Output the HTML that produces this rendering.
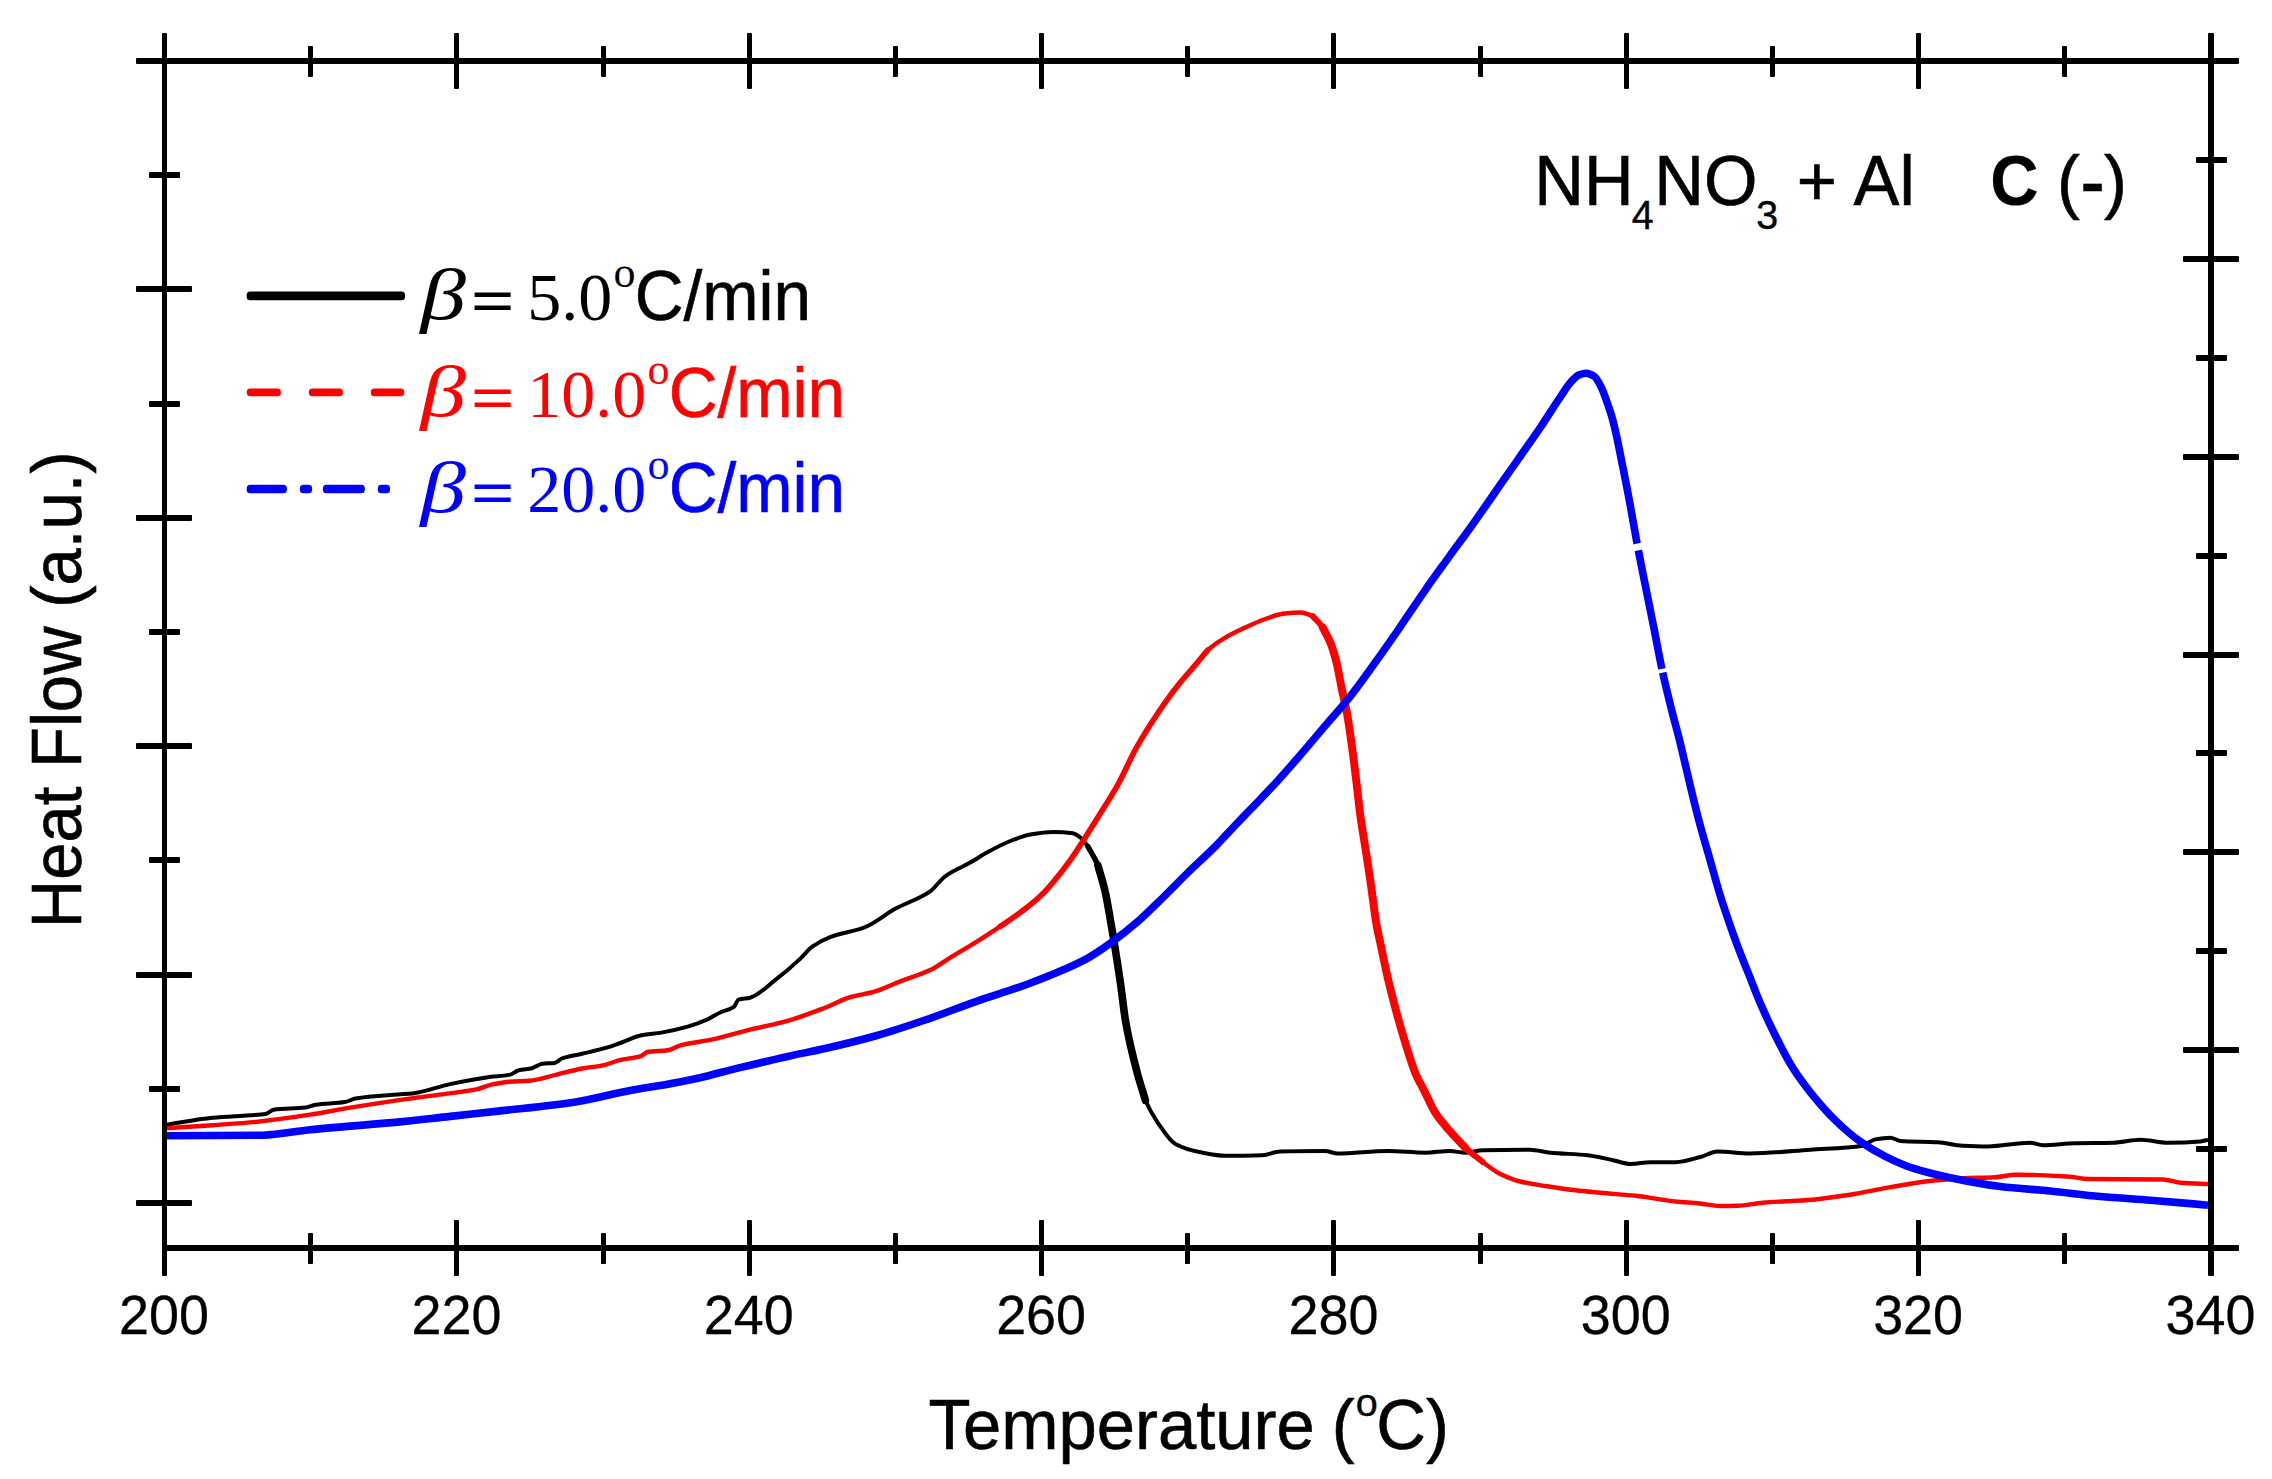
<!DOCTYPE html>
<html><head><meta charset="utf-8"><style>html,body{margin:0;padding:0;background:#fff;overflow:hidden}svg{display:block}</style></head>
<body>
<svg width="2272" height="1479" viewBox="0 0 2272 1479">
<rect width="2272" height="1479" fill="#fff"/>
<g fill="none" stroke-linejoin="round" stroke-linecap="butt">
<path d="M165.5,1124.9C181.2,1122.5 196.9,1119.1 212.6,1117.7C225.1,1116.6 237.5,1116.1 250.0,1115.2C255.2,1114.8 260.4,1114.7 265.6,1113.9C268.3,1113.5 270.9,1110.1 273.6,1109.7C284.2,1108.2 294.7,1108.9 305.3,1107.6C308.8,1107.2 312.3,1105.2 315.8,1104.7C325.5,1103.3 335.2,1103.6 344.9,1102.1C348.4,1101.6 351.9,1099.1 355.4,1098.5C369.5,1096.1 383.6,1095.6 397.7,1094.5C402.7,1094.1 407.7,1093.9 412.7,1093.4C425.1,1092.1 437.6,1086.7 450.0,1084.1C463.2,1081.3 476.4,1078.6 489.6,1076.9C496.2,1076.1 502.8,1076.1 509.4,1074.9C512.5,1074.3 515.6,1071.0 518.7,1070.3C523.1,1069.2 527.5,1069.3 531.9,1068.3C535.4,1067.5 538.9,1064.1 542.4,1063.7C546.4,1063.3 550.3,1063.4 554.3,1063.0C556.9,1062.7 559.6,1059.3 562.2,1058.4C568.8,1056.1 575.4,1055.4 582.0,1053.8C590.8,1051.7 599.7,1049.8 608.5,1047.2C612.9,1045.9 617.3,1044.1 621.7,1042.5C628.3,1040.1 634.9,1036.6 641.5,1035.3C648.1,1034.0 654.7,1033.7 661.3,1032.6C670.1,1031.1 678.9,1029.2 687.7,1026.7C694.3,1024.8 700.9,1022.3 707.5,1019.4C711.9,1017.4 716.3,1014.2 720.7,1012.2C725.1,1010.2 729.5,1010.0 733.9,1006.9C735.4,1005.8 737.0,1000.1 738.5,999.6C742.3,998.3 746.2,998.7 750.0,997.7C758.4,995.6 766.7,986.6 775.1,980.2C783.4,973.8 791.8,966.6 800.1,958.9C804.3,955.0 808.4,949.3 812.6,946.4C818.4,942.3 824.3,939.3 830.1,937.1C841.8,932.6 853.4,931.7 865.1,927.1C875.1,923.2 885.2,914.3 895.2,908.8C906.9,902.4 918.5,899.4 930.2,891.3C935.2,887.8 940.2,879.9 945.2,876.3C953.5,870.3 961.9,867.4 970.2,862.6C976.1,859.2 981.9,855.2 987.8,852.0C996.1,847.5 1004.5,843.1 1012.8,840.0C1018.6,837.8 1024.5,835.5 1030.3,834.5C1037.8,833.2 1045.3,832.0 1052.8,832.0C1059.5,832.0 1066.1,832.4 1072.8,833.3C1075.3,833.6 1077.8,835.6 1080.3,837.5C1082.8,839.4 1085.3,842.7 1087.8,846.3C1091.1,851.1 1094.5,856.7 1097.8,865.1C1100.3,871.5 1102.9,881.4 1105.4,892.6C1107.1,900.0 1108.7,910.5 1110.4,920.1C1112.1,929.7 1113.7,939.7 1115.4,950.1C1117.1,960.5 1118.7,971.1 1120.4,982.7C1122.1,994.3 1123.7,1010.2 1125.4,1020.2C1127.1,1030.2 1128.7,1037.7 1130.4,1045.2C1132.9,1056.4 1135.4,1066.1 1137.9,1075.2C1140.4,1084.3 1142.9,1094.3 1145.4,1100.3C1149.6,1110.3 1153.7,1116.7 1157.9,1122.8C1163.7,1131.3 1169.6,1140.9 1175.4,1144.0C1183.7,1148.5 1192.1,1150.7 1200.4,1152.3C1208.8,1153.9 1217.1,1155.8 1225.5,1155.8C1237.9,1155.8 1250.2,1155.6 1262.6,1155.2C1268.4,1155.0 1274.3,1151.6 1280.1,1151.5C1295.1,1151.1 1310.1,1151.0 1325.1,1151.0C1329.3,1151.0 1333.4,1153.5 1337.6,1153.5C1354.3,1153.5 1371.0,1151.0 1387.7,1151.0C1400.2,1151.0 1412.7,1152.7 1425.2,1152.7C1433.5,1152.7 1441.9,1151.0 1450.2,1151.0C1455.2,1151.0 1460.2,1152.7 1465.2,1152.7C1471.0,1152.7 1476.9,1150.3 1482.7,1150.2C1498.6,1149.8 1514.4,1149.7 1530.3,1149.7C1537.0,1149.7 1543.6,1152.1 1550.3,1152.7C1562.8,1153.9 1575.3,1153.9 1587.8,1155.2C1596.2,1156.1 1604.5,1158.5 1612.9,1160.2C1618.7,1161.4 1624.6,1164.0 1630.4,1164.0C1637.1,1164.0 1643.7,1162.2 1650.4,1162.2C1658.7,1162.2 1667.1,1162.2 1675.4,1162.2C1683.7,1162.2 1692.1,1159.2 1700.4,1157.0C1706.1,1155.5 1711.8,1151.4 1717.5,1151.4C1728.3,1151.4 1739.2,1153.4 1750.0,1153.4C1770.0,1153.4 1790.1,1151.1 1810.1,1149.7C1827.6,1148.5 1845.1,1148.4 1862.6,1145.7C1866.8,1145.0 1871.0,1140.2 1875.2,1139.4C1880.2,1138.5 1885.2,1137.7 1890.2,1137.7C1893.5,1137.7 1896.9,1140.7 1900.2,1140.9C1912.7,1141.8 1925.2,1141.5 1937.7,1142.2C1946.0,1142.7 1954.4,1145.3 1962.7,1145.7C1971.1,1146.1 1979.4,1146.4 1987.8,1146.4C2002.0,1146.4 2016.1,1142.7 2030.3,1142.7C2034.5,1142.7 2038.6,1145.2 2042.8,1145.2C2053.6,1145.2 2064.5,1143.4 2075.3,1143.2C2087.8,1142.9 2100.4,1143.0 2112.9,1142.7C2122.1,1142.5 2131.2,1139.7 2140.4,1139.7C2149.6,1139.7 2158.7,1142.7 2167.9,1142.7C2178.7,1142.7 2189.6,1142.3 2200.4,1141.4C2202.9,1141.2 2205.5,1140.3 2208.0,1139.7" stroke="#000" stroke-width="4"/>
<path d="M1087.8,846.3C1091.1,852.6 1094.5,856.7 1097.8,865.1C1100.3,871.5 1102.9,881.4 1105.4,892.6C1107.1,900.0 1108.7,910.5 1110.4,920.1C1112.1,929.7 1113.7,939.7 1115.4,950.1C1117.1,960.5 1118.7,971.1 1120.4,982.7C1122.1,994.3 1123.7,1010.2 1125.4,1020.2C1127.1,1030.2 1128.7,1037.7 1130.4,1045.2C1132.9,1056.4 1135.4,1066.1 1137.9,1075.2C1140.4,1084.3 1142.9,1091.9 1145.4,1100.3" stroke="#000" stroke-width="5.4" stroke-linecap="round"/>
<path d="M1097.8,865.1C1100.3,874.3 1102.9,881.4 1105.4,892.6C1107.1,900.0 1108.7,910.5 1110.4,920.1C1112.1,929.7 1113.7,939.7 1115.4,950.1C1117.1,960.5 1118.7,971.1 1120.4,982.7C1122.1,994.3 1123.7,1010.2 1125.4,1020.2C1127.1,1030.2 1128.7,1037.7 1130.4,1045.2C1132.9,1056.4 1135.4,1066.1 1137.9,1075.2C1140.4,1084.3 1142.9,1091.9 1145.4,1100.3" stroke="#000" stroke-width="7.6" stroke-linecap="round"/>
<path d="M165.5,1128.3C181.2,1127.3 196.9,1126.3 212.6,1125.2C227.6,1124.1 242.6,1123.2 257.6,1121.7C275.1,1120.0 292.6,1117.4 310.1,1114.7C323.5,1112.7 336.8,1109.9 350.2,1107.7C369.4,1104.6 388.5,1101.6 407.7,1098.9C420.2,1097.1 432.8,1095.6 445.3,1093.9C455.7,1092.5 466.0,1091.5 476.4,1089.4C481.7,1088.3 487.0,1085.5 492.3,1084.4C498.0,1083.2 503.7,1082.1 509.4,1081.7C516.0,1081.2 522.6,1081.3 529.2,1080.8C538.0,1080.2 546.8,1076.9 555.6,1074.9C564.4,1072.9 573.2,1070.1 582.0,1068.5C588.6,1067.3 595.3,1066.9 601.9,1065.6C608.5,1064.3 615.1,1061.2 621.7,1059.7C627.8,1058.3 634.0,1058.2 640.1,1056.4C642.8,1055.6 645.4,1052.2 648.1,1051.8C654.7,1050.8 661.3,1051.1 667.9,1050.2C672.3,1049.6 676.7,1046.3 681.1,1045.2C692.1,1042.4 703.1,1041.6 714.1,1039.2C726.1,1036.6 738.0,1032.6 750.0,1029.6C762.5,1026.5 775.1,1024.4 787.6,1020.9C800.1,1017.4 812.6,1012.5 825.1,1007.7C833.4,1004.5 841.8,999.7 850.1,997.2C858.5,994.7 866.8,993.9 875.2,991.4C883.5,989.0 891.9,984.6 900.2,981.4C910.2,977.5 920.2,974.9 930.2,970.1C936.9,966.9 943.5,961.7 950.2,957.6C958.5,952.5 966.9,947.8 975.2,942.6C983.6,937.4 991.9,932.0 1000.3,926.4C1008.6,920.8 1017.0,915.3 1025.3,908.8C1031.1,904.3 1037.0,899.5 1042.8,893.8C1047.0,889.7 1051.1,884.6 1055.3,879.6C1060.3,873.5 1065.3,867.1 1070.3,860.1C1074.5,854.3 1078.6,847.7 1082.8,841.3C1087.8,833.6 1092.8,825.5 1097.8,817.5C1104.4,806.9 1111.0,797.1 1117.6,785.2C1123.4,774.7 1129.3,760.8 1135.1,750.2C1140.1,741.1 1145.1,733.0 1150.1,725.1C1155.1,717.2 1160.1,709.6 1165.1,702.6C1170.1,695.5 1175.2,688.8 1180.2,682.6C1185.2,676.4 1190.2,671.0 1195.2,665.1C1199.4,660.2 1203.5,653.9 1207.7,650.1C1213.5,644.8 1219.4,641.1 1225.2,637.6C1231.9,633.6 1238.5,630.6 1245.2,627.5C1251.9,624.4 1258.5,621.3 1265.2,619.0C1271.0,617.0 1276.9,614.5 1282.7,613.8C1288.6,613.1 1294.4,612.5 1300.3,612.5C1304.5,612.5 1308.6,614.3 1312.8,616.3C1316.1,617.9 1319.5,622.7 1322.8,627.6C1325.3,631.3 1327.8,636.4 1330.3,642.6C1332.4,647.7 1334.4,654.4 1336.5,662.6C1338.2,669.2 1339.8,679.5 1341.5,687.6C1343.4,697.0 1345.4,704.2 1347.3,715.1C1348.9,724.1 1350.5,736.0 1352.1,747.7C1353.5,757.7 1354.8,769.0 1356.2,780.2C1357.6,791.4 1358.9,805.1 1360.3,815.2C1362.0,827.6 1363.6,836.9 1365.3,847.7C1367.0,858.5 1368.6,869.0 1370.3,880.3C1372.4,894.6 1374.5,913.5 1376.6,925.3C1377.8,932.0 1379.0,936.8 1380.2,942.5C1382.7,954.3 1385.2,966.8 1387.7,977.6C1390.2,988.4 1392.7,998.2 1395.2,1007.6C1398.5,1020.1 1401.9,1031.8 1405.2,1042.6C1408.5,1053.4 1411.9,1064.7 1415.2,1072.7C1418.5,1080.7 1421.9,1086.0 1425.2,1092.7C1428.5,1099.4 1431.9,1107.5 1435.2,1112.7C1440.2,1120.5 1445.2,1125.7 1450.2,1131.5C1455.2,1137.3 1460.2,1143.0 1465.2,1147.7C1471.0,1153.1 1476.9,1157.7 1482.7,1162.0C1488.6,1166.4 1494.4,1171.1 1500.3,1174.0C1507.0,1177.2 1513.6,1179.9 1520.3,1181.5C1528.6,1183.6 1537.0,1184.7 1545.3,1186.0C1555.3,1187.6 1565.3,1189.1 1575.3,1190.3C1583.7,1191.3 1592.0,1192.0 1600.4,1192.8C1612.1,1193.9 1623.7,1194.6 1635.4,1195.8C1648.7,1197.2 1662.1,1200.1 1675.4,1201.5C1683.6,1202.3 1691.8,1202.7 1700.0,1203.5C1706.7,1204.2 1713.3,1206.0 1720.0,1206.0C1725.8,1206.0 1731.7,1205.9 1737.5,1205.7C1745.9,1205.5 1754.2,1203.4 1762.6,1202.7C1779.3,1201.3 1795.9,1201.1 1812.6,1199.7C1825.1,1198.6 1837.6,1196.6 1850.1,1194.7C1862.6,1192.8 1875.2,1189.9 1887.7,1187.7C1900.2,1185.5 1912.7,1182.9 1925.2,1181.5C1937.7,1180.1 1950.2,1178.8 1962.7,1178.2C1973.6,1177.7 1984.4,1177.8 1995.3,1177.2C2002.0,1176.9 2008.6,1174.7 2015.3,1174.7C2033.6,1174.7 2052.0,1175.5 2070.3,1176.7C2076.1,1177.1 2082.0,1178.9 2087.8,1179.0C2112.8,1179.4 2137.9,1179.1 2162.9,1179.5C2168.7,1179.6 2174.6,1182.2 2180.4,1182.7C2189.6,1183.4 2198.8,1183.6 2208.0,1184.0" stroke="#f00" stroke-width="4.4"/>
<path d="M1000.3,926.4C1008.6,920.5 1017.0,915.3 1025.3,908.8C1031.1,904.3 1037.0,899.5 1042.8,893.8C1047.0,889.7 1051.1,884.6 1055.3,879.6C1060.3,873.5 1065.3,867.1 1070.3,860.1C1074.5,854.3 1078.6,847.7 1082.8,841.3C1087.8,833.6 1092.8,825.5 1097.8,817.5C1104.4,806.9 1111.0,797.1 1117.6,785.2C1123.4,774.7 1129.3,760.8 1135.1,750.2C1140.1,741.1 1145.1,733.0 1150.1,725.1C1155.1,717.2 1160.1,709.6 1165.1,702.6C1170.1,695.5 1175.2,688.8 1180.2,682.6C1185.2,676.4 1190.2,671.0 1195.2,665.1C1199.4,660.2 1203.5,655.1 1207.7,650.1" stroke="#f00" stroke-width="5.6" stroke-linecap="round"/>
<path d="M1312.8,616.3C1316.1,620.1 1319.5,622.7 1322.8,627.6C1325.3,631.3 1327.8,636.4 1330.3,642.6C1332.4,647.7 1334.4,654.4 1336.5,662.6C1338.2,669.2 1339.8,679.5 1341.5,687.6C1343.4,697.0 1345.4,704.2 1347.3,715.1C1348.9,724.1 1350.5,736.0 1352.1,747.7C1353.5,757.7 1354.8,769.0 1356.2,780.2C1357.6,791.4 1358.9,805.1 1360.3,815.2C1362.0,827.6 1363.6,836.9 1365.3,847.7C1367.0,858.5 1368.6,869.0 1370.3,880.3C1372.4,894.6 1374.5,913.5 1376.6,925.3C1377.8,932.0 1379.0,936.8 1380.2,942.5C1382.7,954.3 1385.2,966.8 1387.7,977.6C1390.2,988.4 1392.7,998.2 1395.2,1007.6C1398.5,1020.1 1401.9,1031.8 1405.2,1042.6C1408.5,1053.4 1411.9,1064.7 1415.2,1072.7C1418.5,1080.7 1421.9,1086.0 1425.2,1092.7C1428.5,1099.4 1431.9,1107.5 1435.2,1112.7C1440.2,1120.5 1445.2,1125.7 1450.2,1131.5C1455.2,1137.3 1460.2,1143.0 1465.2,1147.7C1471.0,1153.1 1476.9,1157.2 1482.7,1162.0" stroke="#f00" stroke-width="6" stroke-linecap="round"/>
<path d="M1322.8,627.6C1325.3,632.6 1327.8,636.4 1330.3,642.6C1332.4,647.7 1334.4,654.4 1336.5,662.6C1338.2,669.2 1339.8,679.5 1341.5,687.6C1343.4,697.0 1345.4,704.2 1347.3,715.1C1348.9,724.1 1350.5,736.0 1352.1,747.7C1353.5,757.7 1354.8,769.0 1356.2,780.2C1357.6,791.4 1358.9,805.1 1360.3,815.2C1362.0,827.6 1363.6,836.9 1365.3,847.7C1367.0,858.5 1368.6,869.0 1370.3,880.3C1372.4,894.6 1374.5,913.5 1376.6,925.3C1377.8,932.0 1379.0,936.8 1380.2,942.5C1382.7,954.3 1385.2,966.8 1387.7,977.6C1390.2,988.4 1392.7,998.2 1395.2,1007.6C1398.5,1020.1 1401.9,1031.8 1405.2,1042.6C1408.5,1053.4 1411.9,1064.7 1415.2,1072.7C1418.5,1080.7 1421.9,1086.0 1425.2,1092.7C1428.5,1099.4 1431.9,1107.5 1435.2,1112.7C1440.2,1120.5 1445.2,1125.7 1450.2,1131.5C1455.2,1137.3 1460.2,1142.3 1465.2,1147.7" stroke="#f00" stroke-width="7.9" stroke-linecap="round"/>
<path d="M165.5,1135.7C197.9,1135.5 230.2,1135.6 262.6,1135.2C278.4,1135.0 294.3,1131.3 310.1,1129.7C340.1,1126.7 370.2,1124.8 400.2,1121.9C416.9,1120.3 433.6,1118.2 450.3,1116.4C467.0,1114.6 483.6,1112.8 500.3,1110.9C525.3,1108.0 550.4,1105.8 575.4,1101.9C592.1,1099.3 608.7,1094.6 625.4,1091.4C642.1,1088.2 658.8,1085.9 675.5,1082.7C683.7,1081.2 691.8,1079.5 700.0,1077.7C713.3,1074.7 726.7,1070.8 740.0,1067.6C747.5,1065.8 755.1,1064.1 762.6,1062.3C770.9,1060.4 779.2,1058.4 787.5,1056.5C800.0,1053.7 812.6,1051.4 825.1,1048.5C841.8,1044.7 858.5,1040.7 875.2,1036.0C891.9,1031.3 908.5,1025.7 925.2,1020.0C941.9,1014.3 958.5,1007.6 975.2,1001.8C991.9,996.0 1008.6,991.1 1025.3,985.0C1037.8,980.4 1050.3,975.6 1062.8,970.1C1071.1,966.5 1079.5,962.7 1087.8,958.1C1096.2,953.4 1104.5,947.5 1112.9,941.4C1121.2,935.3 1129.6,928.6 1137.9,921.4C1146.2,914.2 1154.6,905.7 1162.9,897.6C1171.2,889.5 1179.6,880.7 1187.9,872.6C1196.2,864.5 1204.6,857.1 1212.9,848.8C1221.3,840.4 1229.6,831.0 1238.0,822.3C1242.1,818.1 1246.1,813.9 1250.2,809.7C1258.5,801.0 1266.9,792.6 1275.2,783.5C1283.6,774.4 1291.9,764.8 1300.3,755.1C1308.6,745.5 1317.0,735.4 1325.3,725.6C1333.6,715.8 1342.0,706.8 1350.3,696.3C1358.6,685.8 1367.0,673.9 1375.3,662.3C1383.7,650.7 1392.0,638.7 1400.4,626.6C1408.7,614.5 1417.1,601.7 1425.4,589.8C1433.6,578.0 1441.9,566.8 1450.1,555.4C1456.5,546.5 1463.0,538.0 1469.4,529.0C1476.3,519.4 1483.2,509.4 1490.1,499.5C1493.4,494.7 1496.8,489.8 1500.1,485.0C1506.8,475.3 1513.6,465.8 1520.3,456.2C1527.1,446.5 1533.8,437.1 1540.6,427.1C1547.4,417.1 1554.1,406.0 1560.9,396.1C1564.3,391.2 1567.6,385.5 1571.0,381.9C1573.7,379.0 1576.4,375.7 1579.1,374.8C1581.5,374.0 1583.8,373.3 1586.2,373.3C1588.9,373.3 1591.6,374.7 1594.3,376.4C1596.7,377.9 1599.0,382.8 1601.4,387.5C1603.1,390.9 1604.8,396.0 1606.5,400.7C1608.2,405.4 1609.9,410.1 1611.6,415.9C1613.3,421.6 1614.9,428.7 1616.6,436.2C1618.3,443.8 1620.0,453.2 1621.7,461.6C1623.4,470.0 1625.1,478.1 1626.8,486.9C1627.9,492.8 1629.1,498.9 1630.2,505.1C1632.7,518.7 1635.2,533.7 1637.7,547.0C1640.5,561.7 1643.2,575.0 1646.0,588.8C1648.7,602.1 1651.3,615.2 1654.0,628.6C1656.8,642.5 1659.5,658.0 1662.3,670.8C1665.2,684.2 1668.1,695.8 1671.0,707.5C1674.0,719.7 1677.1,730.2 1680.1,742.5C1683.4,756.0 1686.8,771.3 1690.1,785.1C1693.4,798.9 1696.8,812.7 1700.1,825.1C1703.4,837.5 1706.8,848.4 1710.1,860.1C1713.4,871.8 1716.8,884.4 1720.1,895.2C1723.4,906.0 1726.8,915.6 1730.1,925.2C1733.4,934.8 1736.8,944.0 1740.1,952.7C1743.4,961.4 1746.8,969.4 1750.1,977.7C1753.4,986.0 1756.8,995.0 1760.1,1002.8C1765.1,1014.5 1770.2,1025.2 1775.2,1035.3C1781.0,1047.0 1786.9,1058.6 1792.7,1067.8C1799.3,1078.3 1806.0,1086.9 1812.6,1095.1C1820.1,1104.3 1827.6,1112.8 1835.1,1120.1C1843.4,1128.2 1851.8,1135.5 1860.1,1141.4C1868.5,1147.3 1876.8,1152.2 1885.2,1156.4C1894.4,1161.0 1903.5,1165.2 1912.7,1168.2C1925.2,1172.2 1937.7,1175.1 1950.2,1177.7C1966.9,1181.2 1983.6,1184.5 2000.3,1186.5C2017.0,1188.5 2033.6,1189.4 2050.3,1191.0C2067.0,1192.7 2083.7,1195.0 2100.4,1196.5C2117.1,1198.0 2133.7,1198.9 2150.4,1200.2C2169.6,1201.7 2188.8,1203.5 2208.0,1205.2" stroke="#00f" stroke-width="7.6"/>
<path d="M1636.9,543.6L1638.3,550.4" stroke="#fff" stroke-width="11"/>
<path d="M1661.9,668.8L1662.7,672.6" stroke="#fff" stroke-width="11"/>
</g>
<g fill="#000">
<rect x="136" y="58" width="2103" height="6" rx="1"/>
<rect x="162" y="1245" width="2077" height="6" rx="1"/>
<rect x="162" y="33" width="5" height="1243" rx="1"/>
<rect x="2208" y="33" width="6" height="1243" rx="1"/>
<rect x="308" y="46" width="5" height="31" rx="1"/>
<rect x="308" y="1233" width="5" height="31" rx="1"/>
<rect x="454" y="33" width="5" height="56" rx="1"/>
<rect x="454" y="1220" width="5" height="56" rx="1"/>
<rect x="601" y="46" width="5" height="31" rx="1"/>
<rect x="601" y="1233" width="5" height="31" rx="1"/>
<rect x="747" y="33" width="5" height="56" rx="1"/>
<rect x="747" y="1220" width="5" height="56" rx="1"/>
<rect x="893" y="46" width="5" height="31" rx="1"/>
<rect x="893" y="1233" width="5" height="31" rx="1"/>
<rect x="1039" y="33" width="5" height="56" rx="1"/>
<rect x="1039" y="1220" width="5" height="56" rx="1"/>
<rect x="1185" y="46" width="5" height="31" rx="1"/>
<rect x="1185" y="1233" width="5" height="31" rx="1"/>
<rect x="1331" y="33" width="5" height="56" rx="1"/>
<rect x="1331" y="1220" width="5" height="56" rx="1"/>
<rect x="1478" y="46" width="5" height="31" rx="1"/>
<rect x="1478" y="1233" width="5" height="31" rx="1"/>
<rect x="1624" y="33" width="5" height="56" rx="1"/>
<rect x="1624" y="1220" width="5" height="56" rx="1"/>
<rect x="1770" y="46" width="5" height="31" rx="1"/>
<rect x="1770" y="1233" width="5" height="31" rx="1"/>
<rect x="1916" y="33" width="5" height="56" rx="1"/>
<rect x="1916" y="1220" width="5" height="56" rx="1"/>
<rect x="2062" y="46" width="5" height="31" rx="1"/>
<rect x="2062" y="1233" width="5" height="31" rx="1"/>
<rect x="149" y="172" width="31" height="6" rx="1"/>
<rect x="136" y="286" width="56" height="6" rx="1"/>
<rect x="149" y="401" width="31" height="6" rx="1"/>
<rect x="136" y="515" width="56" height="6" rx="1"/>
<rect x="149" y="629" width="31" height="6" rx="1"/>
<rect x="136" y="743" width="56" height="6" rx="1"/>
<rect x="149" y="857" width="31" height="6" rx="1"/>
<rect x="136" y="972" width="56" height="6" rx="1"/>
<rect x="149" y="1086" width="31" height="6" rx="1"/>
<rect x="136" y="1200" width="56" height="6" rx="1"/>
<rect x="2196" y="157" width="31" height="6" rx="1"/>
<rect x="2183" y="256" width="56" height="6" rx="1"/>
<rect x="2196" y="355" width="31" height="6" rx="1"/>
<rect x="2183" y="454" width="56" height="6" rx="1"/>
<rect x="2196" y="553" width="31" height="6" rx="1"/>
<rect x="2183" y="652" width="56" height="6" rx="1"/>
<rect x="2196" y="750" width="31" height="6" rx="1"/>
<rect x="2183" y="849" width="56" height="6" rx="1"/>
<rect x="2196" y="948" width="31" height="6" rx="1"/>
<rect x="2183" y="1047" width="56" height="6" rx="1"/>
<rect x="2196" y="1146" width="31" height="6" rx="1"/>
</g>
<g font-family="Liberation Sans, Arial, sans-serif" font-size="55" text-anchor="middle" fill="#000" stroke="#000" stroke-width="0.3">
<text transform="translate(164.0,1333.9) scale(0.98,1)">200</text>
<text transform="translate(456.4,1333.9) scale(0.98,1)">220</text>
<text transform="translate(748.7,1333.9) scale(0.98,1)">240</text>
<text transform="translate(1041.1,1333.9) scale(0.98,1)">260</text>
<text transform="translate(1333.4,1333.9) scale(0.98,1)">280</text>
<text transform="translate(1625.8,1333.9) scale(0.98,1)">300</text>
<text transform="translate(1918.1,1333.9) scale(0.98,1)">320</text>
<text transform="translate(2210.5,1333.9) scale(0.98,1)">340</text>
</g>
<text font-family="Liberation Sans, Arial, sans-serif" font-size="70"  stroke="#000" stroke-width="0.6" transform="translate(928.6,1448.9) scale(0.983,1)">Temperature</text>
<text font-family="Liberation Sans, Arial, sans-serif" font-size="70"  stroke="#000" stroke-width="0.6" transform="translate(1331.8,1448.9) scale(0.983,1)">(</text>
<text font-family="Liberation Sans, Arial, sans-serif" font-size="39.6"  stroke="#000" stroke-width="0.4" transform="translate(1355.8,1416.1) scale(1.0,1)">o</text>
<text font-family="Liberation Sans, Arial, sans-serif" font-size="70"  stroke="#000" stroke-width="0.6" transform="translate(1376.2,1448.9) scale(0.983,1)">C)</text>
<text font-family="Liberation Sans, Arial, sans-serif" font-size="70" text-anchor="middle" stroke="#000" stroke-width="0.6" transform="translate(81.2,689.8) rotate(-90) scale(0.958,1.005)">Heat Flow (a.u.)</text>
<text font-family="Liberation Sans, Arial, sans-serif" font-size="70"  stroke="#000" stroke-width="0.6" transform="translate(1534.2,204.9) scale(0.983,1)">NH</text>
<text font-family="Liberation Sans, Arial, sans-serif" font-size="41.5"  stroke="#000" stroke-width="0.4" transform="translate(1631.8,228.8) scale(0.95,1)">4</text>
<text font-family="Liberation Sans, Arial, sans-serif" font-size="70"  stroke="#000" stroke-width="0.6" transform="translate(1654.2,204.9) scale(0.983,1)">NO</text>
<text font-family="Liberation Sans, Arial, sans-serif" font-size="41.5"  stroke="#000" stroke-width="0.4" transform="translate(1756.2,228.8) scale(0.95,1)">3</text>
<text font-family="Liberation Sans, Arial, sans-serif" font-size="70"  stroke="#000" stroke-width="0.6" transform="translate(1796.7,204.9) scale(0.983,1)">+</text>
<text font-family="Liberation Sans, Arial, sans-serif" font-size="70"  stroke="#000" stroke-width="0.6" transform="translate(1853.5,204.9) scale(0.983,1)">Al</text>
<text font-family="Liberation Sans, Arial, sans-serif" font-size="70" font-weight="bold" stroke="#000" stroke-width="0.2" transform="translate(1990.2,204.9) scale(0.955,1)">C</text>
<text font-family="Liberation Sans, Arial, sans-serif" font-size="70"  stroke="#000" stroke-width="0.6" transform="translate(2057,204.9) scale(0.983,1)">(</text>
<text font-family="Liberation Sans, Arial, sans-serif" font-size="70" stroke="#000" stroke-width="0.4" transform="translate(2080.3,211.9) scale(1.06,1.3)">-</text>
<text font-family="Liberation Sans, Arial, sans-serif" font-size="70"  stroke="#000" stroke-width="0.6" transform="translate(2104,204.9) scale(0.983,1)">)</text>
<rect x="246.7" y="291.6" width="158.3" height="8.6" rx="3.5" fill="#000"/>
<text fill="#000" font-family="Liberation Serif, Times New Roman, serif" font-size="71.7" font-style="italic" transform="translate(420.5,319.2) scale(1.27,1)">β</text>
<text fill="#000" font-family="Liberation Serif, Times New Roman, serif" font-size="72" font-weight="bold" transform="translate(470.8,322.85) scale(1.076,0.92)">=</text>
<text fill="#000" font-family="Liberation Serif, Times New Roman, serif" font-size="68" x="527.2" y="319.8">5.0</text>
<text fill="#000" font-family="Liberation Serif, Times New Roman, serif" font-size="44" x="613.4" y="286.8">o</text>
<text fill="#000" stroke="#000" stroke-width="0.6" font-family="Liberation Sans, Arial, sans-serif" font-size="70" transform="translate(634.7,319.8) scale(0.965,1)">C/min</text>
<rect x="246.7" y="388.6" width="34.2" height="7.6" rx="3.5" fill="#f00"/>
<rect x="308.8" y="388.6" width="34.1" height="7.6" rx="3.5" fill="#f00"/>
<rect x="370.8" y="388.6" width="33.4" height="7.6" rx="3.5" fill="#f00"/>
<text fill="#f00" font-family="Liberation Serif, Times New Roman, serif" font-size="71.7" font-style="italic" transform="translate(420.5,415.9) scale(1.27,1)">β</text>
<text fill="#f00" font-family="Liberation Serif, Times New Roman, serif" font-size="72" font-weight="bold" transform="translate(470.8,419.55) scale(1.076,0.92)">=</text>
<text fill="#f00" font-family="Liberation Serif, Times New Roman, serif" font-size="68" x="527.2" y="416.5">10.0</text>
<text fill="#f00" font-family="Liberation Serif, Times New Roman, serif" font-size="44" x="647.4" y="383.5">o</text>
<text fill="#f00" stroke="#f00" stroke-width="0.6" font-family="Liberation Sans, Arial, sans-serif" font-size="70" transform="translate(668.7,416.5) scale(0.965,1)">C/min</text>
<rect x="246.7" y="484.7" width="40.2" height="8.6" rx="3.5" fill="#00f"/>
<rect x="299.9" y="484.7" width="12.2" height="8.6" rx="3.5" fill="#00f"/>
<rect x="322.9" y="484.7" width="41.9" height="8.6" rx="3.5" fill="#00f"/>
<rect x="377.8" y="484.7" width="12.2" height="8.6" rx="3.5" fill="#00f"/>
<text fill="#00f" font-family="Liberation Serif, Times New Roman, serif" font-size="71.7" font-style="italic" transform="translate(420.5,511.8) scale(1.27,1)">β</text>
<text fill="#00f" font-family="Liberation Serif, Times New Roman, serif" font-size="72" font-weight="bold" transform="translate(470.8,515.45) scale(1.076,0.92)">=</text>
<text fill="#00f" font-family="Liberation Serif, Times New Roman, serif" font-size="68" x="527.2" y="512.4">20.0</text>
<text fill="#00f" font-family="Liberation Serif, Times New Roman, serif" font-size="44" x="647.4" y="479.4">o</text>
<text fill="#00f" stroke="#00f" stroke-width="0.6" font-family="Liberation Sans, Arial, sans-serif" font-size="70" transform="translate(668.7,512.4) scale(0.965,1)">C/min</text>
</svg>
</body></html>
